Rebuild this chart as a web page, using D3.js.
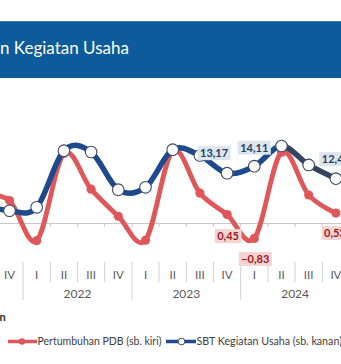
<!DOCTYPE html>
<html><head><meta charset="utf-8">
<script src="https://cdn.jsdelivr.net/npm/d3@7/dist/d3.min.js"></script>
<style>
html,body{margin:0;padding:0;background:#fff;overflow:hidden;}
svg{display:block;}
text{font-family: Lato, "Liberation Sans", sans-serif;}
</style></head><body>
<svg id="chart" width="341" height="364"></svg>
<script>
// ---- data ----
const periods = ["2021-III","2021-IV","2022-I","2022-II","2022-III","2022-IV","2023-I","2023-II","2023-III","2023-IV","2024-I","2024-II","2024-III","2024-IV"];
const yearLabels = ["2022","2023","2024"];
const gdpGrowth = [1.50, 1.20, -0.95, 3.72, 1.81, 0.36, -0.92, 3.86, 1.60, 0.45, -0.83, 3.79, 1.50, 0.53];
const sbtUsaha  = [9.00, 8.14, 8.60, 16.18, 16.01, 10.96, 11.28, 16.32, 15.54, 13.17, 14.11, 16.81, 14.27, 12.44];
const labeledPeriods = ["2023-IV","2024-I","2024-IV"];
const leftDomain = [-2, 6];
const rightDomain = [1.5, 21.5];
const titleText = "n Kegiatan Usaha";
const noteText = "n";
const legendLabels = ["Pertumbuhan PDB (sb. kiri)", "SBT Kegiatan Usaha (sb. kanan)"];

// ---- style / layout ----
const W = 341, H = 364;
const RED = "#E0575A", NAVY = "#1C4A8C", SLATE = "#34445E";
const plotTop = 111, plotBottom = 260.3;
const svg = d3.select("#chart");

const x = d3.scaleBand().domain(periods).range([-31.3, 349.5]).paddingInner(0).paddingOuter(0);
const cx = p => x(p) + x.bandwidth() / 2;
const yL = d3.scaleLinear().domain(leftDomain).range([plotBottom, plotTop]);
const yR = d3.scaleLinear().domain(rightDomain).range([plotBottom, plotTop]);

// banner
svg.append("rect").attr("x", 0).attr("y", 21).attr("width", W).attr("height", 57).attr("fill", "#0E5B9C");
svg.append("rect").attr("x", 0).attr("y", 21).attr("width", W).attr("height", 1).attr("fill", "#3C7DB5");
svg.append("text").attr("x", 0).attr("y", 53.5).attr("fill", "#fff")
  .attr("font-size", 17).text(titleText);

// category axis line at zero
const axisY = yL(0);
const axisG = svg.append("g").attr("transform", `translate(0,${axisY})`)
  .call(d3.axisBottom(x).tickValues([]).tickSizeOuter(0));
axisG.select(".domain").attr("stroke", "#C8C8C8").attr("stroke-width", 1);

// tick marks at category boundaries
const edges = periods.map(p => x(p));
svg.append("g").selectAll("line").data(edges).join("line")
  .attr("x1", d => d).attr("x2", d => d)
  .attr("y1", axisY).attr("y2", axisY + 4)
  .attr("stroke", "#C8C8C8");

// label-area separators
svg.append("g").selectAll("line").data(periods).join("line")
  .attr("x1", p => x(p)).attr("x2", p => x(p))
  .attr("y1", 262)
  .attr("y2", p => p.endsWith("-I") ? 300 : 282)
  .attr("stroke", "#D3D3D3");

// quarter labels (only those inside the visible window)
svg.append("g").selectAll("text").data(periods.filter(p => cx(p) > 0)).join("text")
  .attr("x", p => cx(p)).attr("y", 278.5)
  .attr("text-anchor", "middle").attr("font-size", 11.5).attr("fill", "#595959")
  .text(p => p.split("-")[1]);

// year labels
svg.append("g").selectAll("text").data(yearLabels).join("text")
  .attr("x", yr => d3.mean(periods.filter(p => p.startsWith(yr)), cx))
  .attr("y", 297.8)
  .attr("text-anchor", "middle").attr("font-size", 12).attr("fill", "#595959")
  .text(yr => yr);

// ---- series ----
const curve = d3.curveCardinal.tension(0);
const gdpPts = periods.map((p, i) => ({p, v: gdpGrowth[i]}));
const sbtPts = periods.map((p, i) => ({p, v: sbtUsaha[i]}));

const lineL = d3.line().x(d => cx(d.p)).y(d => yL(d.v)).curve(curve);
const lineR = d3.line().x(d => cx(d.p)).y(d => yR(d.v)).curve(curve);

svg.append("path").datum(gdpPts).attr("d", lineL)
  .attr("fill", "none").attr("stroke", RED).attr("stroke-width", 4.8)
  .attr("stroke-linejoin", "round");
svg.append("g").selectAll("circle").data(gdpPts).join("circle")
  .attr("cx", d => cx(d.p)).attr("cy", d => yL(d.v)).attr("r", 4.6).attr("fill", RED);

// blue line: navy, later part slate
const splitX = cx("2024-II");
const defs = svg.append("defs");
defs.append("clipPath").attr("id", "cA").append("rect")
  .attr("x", -50).attr("y", 0).attr("width", splitX + 50).attr("height", H);
defs.append("clipPath").attr("id", "cB").append("rect")
  .attr("x", splitX).attr("y", 0).attr("width", W).attr("height", H);
svg.append("path").datum(sbtPts).attr("d", lineR).attr("clip-path", "url(#cA)")
  .attr("fill", "none").attr("stroke", NAVY).attr("stroke-width", 5.5);
svg.append("path").datum(sbtPts).attr("d", lineR).attr("clip-path", "url(#cB)")
  .attr("fill", "none").attr("stroke", SLATE).attr("stroke-width", 5.5);
svg.append("g").selectAll("circle").data(sbtPts).join("circle")
  .attr("cx", d => cx(d.p)).attr("cy", d => yR(d.v)).attr("r", 5.8)
  .attr("fill", "#fff").attr("stroke", "#3D4B66").attr("stroke-width", 1.1);

// ---- data labels ----
const fmt = v => d3.format(".2f")(v).replace(".", ",");
const blueOffsets = [[-13, -20], [0, -18.5], [0, -19.5]];
const redOffsets  = [[1, 21.5], [1, 20.5], [-1, 20]];
function addLabel(px, py, txt, fill, color) {
  const g = svg.append("g");
  const t = g.append("text").attr("x", px).attr("y", py + 4)
    .attr("text-anchor", "middle").attr("font-size", 11).attr("font-weight", "bold")
    .attr("fill", color).text(txt);
  const w = t.node().getComputedTextLength();
  g.insert("rect", "text").attr("x", px - w / 2 - 2.5).attr("y", py - 7)
    .attr("width", w + 5).attr("height", 14).attr("fill", fill);
}
labeledPeriods.forEach((p, j) => {
  const i = periods.indexOf(p);
  addLabel(cx(p) + blueOffsets[j][0], yR(sbtUsaha[i]) + blueOffsets[j][1], fmt(sbtUsaha[i]), "#DCE4EE", "#243F63");
  addLabel(cx(p) + redOffsets[j][0], yL(gdpGrowth[i]) + redOffsets[j][1], fmt(gdpGrowth[i]), "#F5D4D4", "#A3161C");
});

// ---- note & legend ----
svg.append("text").attr("x", -0.5).attr("y", 321).attr("font-size", 11)
  .attr("font-weight", "bold").attr("fill", "#262626").text(noteText);

const legY = 341.5;
const lg = svg.append("g");
lg.append("line").attr("x1", 8).attr("x2", 37).attr("y1", legY).attr("y2", legY)
  .attr("stroke", RED).attr("stroke-width", 3.5);
lg.append("circle").attr("cx", 22).attr("cy", legY).attr("r", 3.2).attr("fill", RED);
lg.append("text").attr("x", 37.5).attr("y", legY + 3.6).attr("font-size", 10.5).attr("fill", "#404040").text(legendLabels[0]);
lg.append("line").attr("x1", 166).attr("x2", 196).attr("y1", legY).attr("y2", legY)
  .attr("stroke", NAVY).attr("stroke-width", 3.5);
lg.append("circle").attr("cx", 181.5).attr("cy", legY).attr("r", 3.3)
  .attr("fill", "#fff").attr("stroke", "#3D4B66").attr("stroke-width", 1);
lg.append("text").attr("x", 196.5).attr("y", legY + 3.6).attr("font-size", 10.7).attr("fill", "#404040").text(legendLabels[1]);
</script>
</body></html>
